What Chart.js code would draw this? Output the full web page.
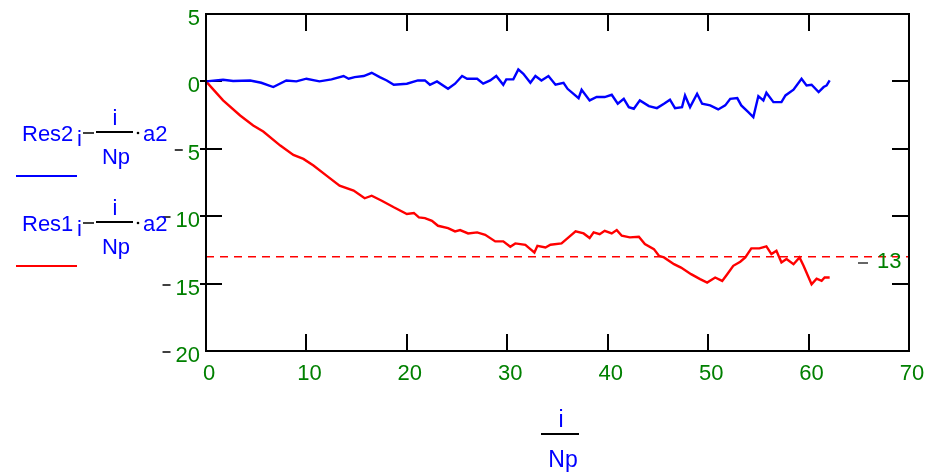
<!DOCTYPE html>
<html><head><meta charset="utf-8">
<script src="https://cdn.jsdelivr.net/npm/chart.js@4.4.1/dist/chart.umd.min.js"></script>
<style>html,body{margin:0;padding:0;background:#fff;overflow:hidden}canvas{display:block}</style>
</head><body>
<canvas id="c" width="934" height="474"></canvas>
<script>
// Series: Res2_i - (i/Np)*a2  (blue)
const res2X = [0,1.7,2.7,4.4,5.5,6.7,8.0,9.0,10.0,11.3,12.5,13.7,14.2,14.8,15.7,16.5,17.3,18.0,18.7,20.0,
  21.1,21.8,22.3,23.0,24.1,24.8,25.5,26.0,27.0,27.6,28.3,28.9,29.6,29.9,30.6,31.1,31.6,32.3,32.8,33.4,
  34.1,34.8,35.6,36.0,37.1,37.4,38.2,38.9,39.7,40.4,41.0,41.6,42.1,42.6,43.2,44.1,44.9,45.6,46.2,46.7,
  47.4,47.7,48.2,48.9,49.4,50.2,51.0,51.7,52.2,52.9,53.3,54.0,54.5,55.0,55.5,55.8,56.5,57.3,57.7,58.5,
  59.3,59.8,60.3,61.0,61.5,61.8,62.1];
const res2Y = [0,0.12,0.03,0.07,-0.1,-0.42,0.07,0,0.2,0,0.15,0.4,0.2,0.32,0.4,0.64,0.32,0.07,-0.25,-0.17,
  0.07,0.07,-0.25,0,-0.55,-0.17,0.4,0.2,0.2,-0.17,0.07,0.4,-0.25,0.15,0.15,0.89,0.57,-0.1,0.4,0.07,
  0.4,-0.25,-0.1,-0.55,-1.24,-0.62,-1.41,-1.16,-1.16,-0.99,-1.66,-1.29,-1.91,-2.03,-1.41,-1.83,-1.98,-1.66,-1.36,-1.98,
  -1.91,-1.04,-1.91,-0.92,-1.66,-1.78,-2.08,-1.78,-1.29,-1.24,-1.78,-2.28,-2.65,-1.09,-1.41,-0.84,-1.54,-1.54,-1.04,-0.62,
  0.2,-0.3,-0.25,-0.79,-0.42,-0.3,0.07];
// Series: Res1_i - (i/Np)*a2  (red)
const res1X = [0,1.7,3.4,4.7,5.7,7.4,8.7,9.7,10.7,12.0,13.3,14.7,15.8,16.5,17.5,18.7,20.0,20.7,21.2,21.8,
  22.5,23.1,24.1,24.8,25.3,26.1,27.0,27.8,28.8,29.6,30.3,30.8,31.8,32.3,32.7,33.0,33.8,34.3,35.4,36.1,
  36.8,37.6,38.2,38.6,39.2,39.7,40.4,40.9,41.4,42.2,43.1,43.7,44.6,45.1,45.6,46.6,47.3,48.3,49.2,49.9,
  50.7,51.4,51.9,52.5,53.2,53.7,54.3,55.1,55.8,56.3,56.8,57.3,57.8,58.5,59.1,59.5,60.3,60.8,61.3,61.6,62.1];
const res1Y = [0,-1.41,-2.53,-3.27,-3.72,-4.76,-5.45,-5.75,-6.24,-6.99,-7.73,-8.1,-8.67,-8.48,-8.85,-9.34,-9.84,-9.76,-10.09,-10.14,
  -10.34,-10.71,-10.88,-11.13,-11.03,-11.28,-11.2,-11.38,-11.87,-11.87,-12.27,-12.02,-12.12,-12.44,-12.69,-12.2,-12.32,-12.12,-12.02,-11.57,
  -11.13,-11.28,-11.62,-11.2,-11.33,-11.08,-11.28,-11.03,-11.45,-11.57,-11.52,-12.07,-12.44,-12.94,-13.06,-13.56,-13.81,-14.3,-14.67,-14.92,
  -14.55,-14.8,-14.3,-13.68,-13.38,-13.06,-12.39,-12.39,-12.24,-12.81,-12.56,-13.43,-13.18,-13.56,-13.06,-13.68,-15.05,-14.63,-14.8,-14.55,-14.55];
const xTicks = [0,10,20,30,40,50,60,70];
const yTicks = [5,0,-5,-10,-15,-20];
const markerValue = -13;
const seriesNames = ['Res2','Res1'];

const GREEN = '#008000', BLUE = '#0000ff', RED = '#ff0000';
const TEXT_FONT = '22px "Liberation Sans", Arial, sans-serif';
const TICK_FONT_FAMILY = '"Liberation Sans Narrow", "Liberation Sans", Arial, sans-serif';

function hline(ctx, x1, x2, y, color, w){
  ctx.save(); ctx.strokeStyle = color; ctx.lineWidth = w;
  ctx.beginPath(); ctx.moveTo(x1, y); ctx.lineTo(x2, y); ctx.stroke(); ctx.restore();
}
function vline(ctx, x, y1, y2, color, w){
  ctx.save(); ctx.strokeStyle = color; ctx.lineWidth = w;
  ctx.beginPath(); ctx.moveTo(x, y1); ctx.lineTo(x, y2); ctx.stroke(); ctx.restore();
}

function legendItem(ctx, name, color, dy){
  ctx.save();
  ctx.font = TEXT_FONT; ctx.fillStyle = BLUE; ctx.textBaseline = 'alphabetic';
  ctx.textAlign = 'left';
  ctx.fillText(name, 22, 141 + dy);
  ctx.fillText('i', 77, 146 + dy);
  hline(ctx, 83, 94, 133 + dy, '#000', 1.5);
  hline(ctx, 96, 133, 132 + dy, '#000', 2);
  ctx.textAlign = 'center';
  ctx.fillText('i', 115, 125 + dy);
  ctx.fillText('Np', 116, 164 + dy);
  ctx.fillStyle = '#000';
  ctx.beginPath(); ctx.arc(138, 133 + dy, 1.3, 0, Math.PI*2); ctx.fill();
  ctx.fillStyle = BLUE; ctx.textAlign = 'left';
  ctx.fillText('a2', 143, 141 + dy);
  hline(ctx, 16, 77, 176 + dy, color, 2);
  ctx.restore();
}

const decor = {
  id: 'decor',
  beforeDatasetsDraw(chart){
    const {ctx, chartArea: a, scales: {x, y}} = chart;
    // x ticks (inward, top and bottom)
    xTicks.forEach(v => {
      if (v === xTicks[0] || v === xTicks[xTicks.length-1]) return;
      const px = Math.round(x.getPixelForValue(v));
      vline(ctx, px, a.top, a.top + 17, '#000', 2);
      vline(ctx, px, a.bottom - 17, a.bottom, '#000', 2);
    });
    // y ticks (left crossing, right inward)
    yTicks.forEach(v => {
      if (v === yTicks[0] || v === yTicks[yTicks.length-1]) return;
      const py = Math.round(y.getPixelForValue(v));
      hline(ctx, a.left - 6, a.left + 16, py, '#000', 2);
      hline(ctx, a.right - 17, a.right, py, '#000', 2);
    });
    // dashed marker line
    const yy = y.getPixelForValue(markerValue);
    ctx.save(); ctx.strokeStyle = 'rgb(255,0,0)'; ctx.lineWidth = 1.5; ctx.setLineDash([8,6]);
    ctx.beginPath(); ctx.moveTo(a.left, yy); ctx.lineTo(a.right, yy); ctx.stroke(); ctx.restore();
  },
  afterDraw(chart){
    const {ctx, chartArea: a, scales: {y}} = chart;
    // frame
    ctx.save(); ctx.strokeStyle = '#000'; ctx.lineWidth = 2;
    ctx.strokeRect(a.left, a.top, a.right - a.left, a.bottom - a.top); ctx.restore();
    // black minus signs for negative y labels
    ctx.save();
    ctx.font = '22px ' + TICK_FONT_FAMILY;
    yTicks.forEach(v => {
      if (v >= 0) return;
      const w = ctx.measureText(String(Math.abs(v))).width;
      const right = a.left - 6;
      const py = Math.round(y.getPixelForValue(v)) + 1;
      hline(ctx, right - w - 13, right - w - 5, py, '#000', 1.5);
    });
    // marker label "−13" on right
    const my = y.getPixelForValue(markerValue);
    hline(ctx, 858, 868, Math.round(my) + 6, '#333', 1.5);
    ctx.fillStyle = GREEN; ctx.textAlign = 'left'; ctx.textBaseline = 'middle';
    ctx.fillText(String(Math.abs(markerValue)), 877, my + 5);
    ctx.restore();
    // legend
    legendItem(ctx, seriesNames[0], BLUE, 0);
    legendItem(ctx, seriesNames[1], RED, 90);
    // x-axis title
    ctx.save();
    ctx.font = '23px "Liberation Sans", Arial, sans-serif'; ctx.fillStyle = BLUE;
    ctx.textAlign = 'center'; ctx.textBaseline = 'alphabetic';
    ctx.fillText('i', 561, 427);
    hline(ctx, 541, 579, 434, '#000', 2);
    ctx.fillText('Np', 563, 467);
    ctx.restore();
  }
};

new Chart(document.getElementById('c'), {
  type: 'line',
  data: {
    datasets: [
      { label: seriesNames[0], data: res2X.map((v, i) => ({x: v, y: res2Y[i]})),
        borderColor: BLUE, borderWidth: 2.4, pointRadius: 0, tension: 0, fill: false },
      { label: seriesNames[1], data: res1X.map((v, i) => ({x: v, y: res1Y[i]})),
        borderColor: RED, borderWidth: 2.4, pointRadius: 0, tension: 0, fill: false }
    ]
  },
  options: {
    responsive: false, animation: false, devicePixelRatio: 1,
    layout: { padding: { left: 0, right: 25, top: 14, bottom: 0 } },
    plugins: { legend: { display: false }, tooltip: { enabled: false } },
    scales: {
      x: {
        type: 'linear', min: 0, max: 70,
        afterBuildTicks: s => { s.ticks = xTicks.map(v => ({value: v})); },
        afterFit: s => { s.height = 123; s.paddingLeft = 0; s.paddingRight = 0; },
        grid: { display: false, drawTicks: false }, border: { display: false },
        ticks: { color: GREEN, font: { family: TICK_FONT_FAMILY, size: 22 }, padding: 10,
                 labelOffset: 3, maxRotation: 0, autoSkip: false }
      },
      y: {
        type: 'linear', min: -20, max: 5,
        afterBuildTicks: s => { s.ticks = yTicks.map(v => ({value: v})); },
        afterFit: s => { s.width = 206; s.paddingTop = 0; s.paddingBottom = 0; },
        grid: { display: false, drawTicks: false }, border: { display: false },
        ticks: { color: GREEN, font: { family: TICK_FONT_FAMILY, size: 22 }, padding: 6,
                 labelOffset: 5, autoSkip: false, callback: v => String(Math.abs(v)) }
      }
    }
  },
  plugins: [decor]
});
</script>
</body></html>
